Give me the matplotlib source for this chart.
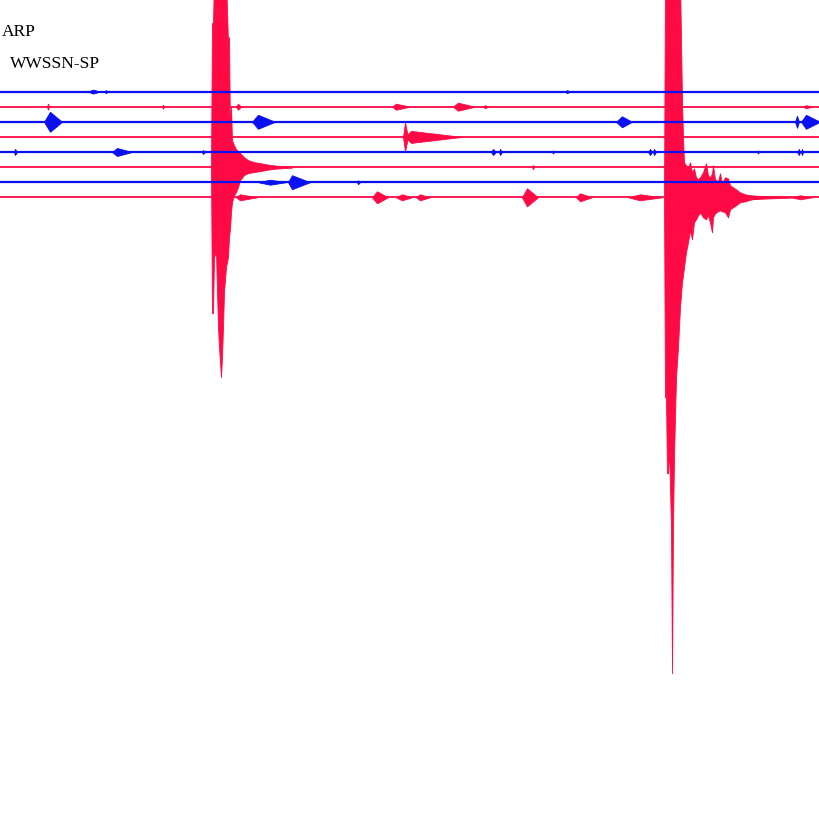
import matplotlib
matplotlib.use("Agg")
import matplotlib.pyplot as plt

# helicorder: 8 lines, time in seconds along each line, amplitude in counts
n_lines = 8
line_gap = 15.1
t_end = 820
station = "ARP"
channel = "WWSSN-SP"

# small events: line index, start, peak, end (s) and peak amplitude
ev_line = [0, 0, 0,
           1, 1, 1, 1, 1, 1, 1,
           2, 2, 2, 2, 2,
           3, 3,
           4, 4, 4, 4, 4, 4, 4, 4, 4, 4, 4,
           5,
           6, 6, 6,
           7, 7, 7, 7, 7, 7, 7, 7, 7]
ev_start = [88, 104, 565,
            47, 162, 236, 392, 453, 483, 803,
            44, 252, 616, 795, 801,
            403, 405,
            14, 112, 202, 491, 499, 552, 648, 653, 757, 797, 801,
            532,
            258, 288, 357,
            236, 372, 396, 416, 522, 576, 628, 740, 792]
ev_peak = [93, 106, 567,
           48, 163, 238, 396, 458, 485, 806,
           50, 258, 622, 797, 806,
           405, 411,
           15, 117, 203, 493, 500, 553, 650, 654, 758, 799, 802,
           533,
           270, 292, 358,
           240, 377, 402, 420, 527, 580, 640, 745, 800]
ev_stop = [100, 108, 570,
           49, 164, 241, 410, 475, 488, 812,
           62, 275, 632, 799, 820,
           408, 462,
           17, 132, 205, 496, 502, 554, 652, 656, 759, 800, 803,
           534,
           286, 310, 360,
           257, 388, 412, 430, 538, 592, 662, 800, 812]
ev_amp = [2, 1.5, 1.5,
          3, 2, 3, 3, 4, 1.5, 1.5,
          10, 7, 5.5, 6, 7,
          14.5, 6,
          3, 4, 2, 3, 3, 1.5, 3, 3, 1.5, 3, 3,
          2,
          2.5, 7, 2,
          3, 6, 3, 3, 9, 4, 3, 2, 2]

# first large quake, recorded on line 5
q1_line = 5
q1_t = [211, 212, 213, 214, 216, 218, 219, 220, 221, 222, 223, 224, 226, 228,
        229, 230, 231, 232, 234, 236, 238, 240, 244, 248, 254, 260, 268, 276,
        284, 292]
q1_up = [0, 144, 144, 190, 190, 190, 190, 190, 190, 190, 190, 190, 190, 124,
         130, 34, 60, 27, 22, 18, 16, 14, 10, 7, 5, 4, 2.5, 1.5,
         1, 0.5]
q1_down = [0, 146, 146, 90, 85, 160, 180, 195, 210, 190, 160, 125, 100, 90,
           70, 62, 45, 35, 28, 25, 20, 13, 8, 6, 5, 4, 2.5, 1.5,
           1, 0.5]

# second large quake, recorded on line 7
q2_line = 7
q2_t = [664, 665, 666, 667, 668, 669, 670, 671, 672, 673, 674, 676, 678, 680,
        682, 683, 684, 686, 688, 690, 692, 694, 696, 698, 700, 703, 706, 708,
        710, 712, 713, 715, 718, 720, 722, 725, 728, 730, 733, 736, 740, 745,
        750, 755, 760, 765]
q2_up = [0, 220, 220, 220, 220, 220, 220, 220, 220, 220, 220, 220, 220, 220,
         97, 60, 35, 32, 30, 35, 25, 29, 20, 18, 20, 25, 34, 22,
         20, 24, 32, 18, 16, 24, 14, 20, 19, 12, 10, 8, 5, 3,
         2, 1.5, 1, 0.5]
q2_down = [0, 200, 200, 276, 276, 250, 290, 330, 476, 330, 260, 180, 150, 110,
           85, 78, 70, 55, 45, 33, 42, 25, 22, 18, 15, 20, 22, 18,
           25, 35, 20, 16, 14, 13, 14, 15, 20, 12, 10, 8, 5, 4,
           2.5, 1.5, 1, 0.5]

blue = "#0a10f0"
red = "#ff0a45"

fig = plt.figure(figsize=(8.2, 8.2), dpi=100)
ax = fig.add_axes([0, 0, 1, 1])
ax.set_xlim(0, t_end)
ax.set_ylim(92.6 - 820, 92.6)
ax.axis("off")


def line_color(k):
    return blue if k % 2 == 0 else red


for k in range(n_lines):
    y0 = -k * line_gap
    ax.plot([0, t_end], [y0, y0], color=line_color(k),
            lw=1.6 if k % 2 == 0 else 1.3, solid_capstyle="butt")

for k, a, p, b, amp in zip(ev_line, ev_start, ev_peak, ev_stop, ev_amp):
    y0 = -k * line_gap
    ax.fill_between([a, p, b], [y0, y0 + amp, y0], [y0, y0 - amp, y0],
                    color=line_color(k), lw=0.6)

for k, t, up, dn in [(q1_line, q1_t, q1_up, q1_down),
                     (q2_line, q2_t, q2_up, q2_down)]:
    y0 = -k * line_gap
    ax.fill_between(t, [y0 + u for u in up], [y0 - d for d in dn],
                    color=line_color(k), lw=0.6)

fig.text(2 / 820, 1 - 36 / 820, station, family="Liberation Serif",
         fontsize=12.5, va="baseline")
fig.text(10 / 820, 1 - 68 / 820, channel, family="Liberation Serif",
         fontsize=12.5, va="baseline")

fig.savefig("out.png", dpi=100, facecolor="white")
